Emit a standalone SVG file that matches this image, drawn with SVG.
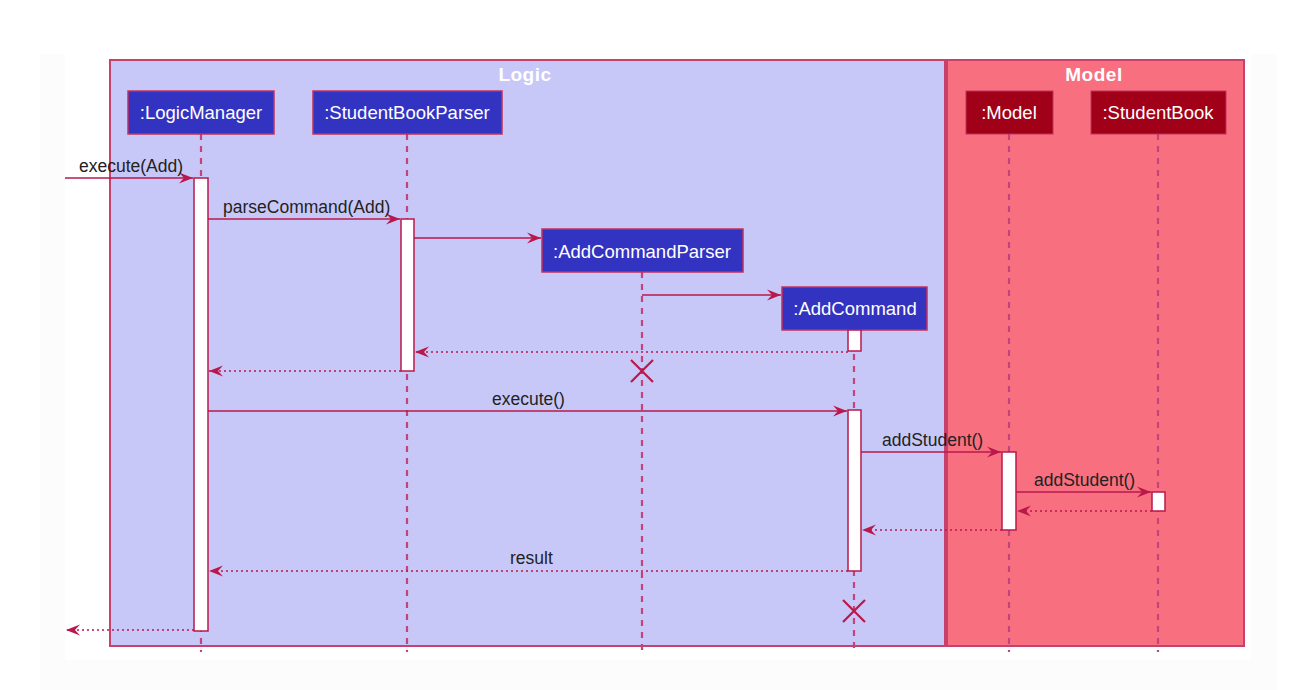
<svg xmlns="http://www.w3.org/2000/svg" width="1306" height="690" viewBox="0 0 1306 690">
<style>
.txt{font-family:"Liberation Sans",Arial,sans-serif;font-size:17.5px;fill:#222;}
.ptxt{font-family:"Liberation Sans",Arial,sans-serif;font-size:18.5px;fill:#ffffff;text-anchor:middle;}
.title{font-family:"Liberation Sans",Arial,sans-serif;font-size:19px;font-weight:bold;fill:#ffffff;text-anchor:middle;letter-spacing:0.5px;}
.lpart{fill:#3333c2;stroke:#c0305e;stroke-width:1.5;}
.mpart{fill:#a00018;stroke:#c0305e;stroke-width:1;}
.life{stroke:#c2447a;stroke-width:2.2;stroke-dasharray:6,6;fill:none;}
.act{fill:#ffffff;stroke:#b8184c;stroke-width:1.5;}
.msg{stroke:#b8184c;stroke-width:1.6;fill:none;marker-end:url(#ah);}
.ret{stroke:#b8184c;stroke-width:1.6;stroke-dasharray:2,3;fill:none;marker-end:url(#ah);}
.x{stroke:#b8184c;stroke-width:2.2;fill:none;}
</style>
<defs>
<marker id="ah" markerWidth="16" markerHeight="12" refX="14" refY="6" orient="auto" markerUnits="userSpaceOnUse">
<polygon points="0,0.5 14,6 0,11.5 5,6" fill="#b8184c"/>
</marker>
</defs>
<rect x="0" y="0" width="1306" height="690" fill="#ffffff"/>
<rect x="40" y="54" width="1237" height="636" fill="#fcfcfc"/>
<rect x="65" y="0" width="1186" height="660" fill="#ffffff"/>
<g id="frame-logic">
<rect x="110" y="60" width="835" height="586" fill="#c8c8f8" stroke="#c8406c" stroke-width="2"/>
<text class="title" x="525" y="81">Logic</text>
</g>
<g id="frame-model">
<rect x="947" y="60" width="297" height="586" fill="#f87080" stroke="#c8406c" stroke-width="2"/>
<text class="title" x="1094" y="81">Model</text>
</g>
<g id="lifelines">
<line class="life" x1="201" y1="134" x2="201" y2="652"/>
<line class="life" x1="407" y1="134" x2="407" y2="652"/>
<line class="life" x1="642" y1="272" x2="642" y2="652"/>
<line class="life" x1="854" y1="330" x2="854" y2="654"/>
<line class="life" x1="1009" y1="134" x2="1009" y2="652"/>
<line class="life" x1="1158" y1="134" x2="1158" y2="652"/>
</g>
<g id="LogicManager">
<rect class="lpart" x="128" y="91" width="146" height="43"/>
<text class="ptxt" x="201" y="119">:LogicManager</text>
</g>
<g id="StudentBookParser">
<rect class="lpart" x="313" y="91" width="189" height="43"/>
<text class="ptxt" x="407" y="119">:StudentBookParser</text>
</g>
<g id="AddCommandParser">
<rect class="lpart" x="542" y="229" width="201" height="43"/>
<text class="ptxt" x="642" y="258">:AddCommandParser</text>
</g>
<g id="AddCommand">
<rect class="lpart" x="782" y="287" width="145" height="43"/>
<text class="ptxt" x="855" y="315">:AddCommand</text>
</g>
<g id="Model">
<rect class="mpart" x="966" y="91" width="87" height="43"/>
<text class="ptxt" x="1009" y="119">:Model</text>
</g>
<g id="StudentBook">
<rect class="mpart" x="1091" y="91" width="135" height="43"/>
<text class="ptxt" x="1158" y="119">:StudentBook</text>
</g>
<g id="activations">
<rect class="act" x="194" y="178" width="14" height="453"/>
<rect class="act" x="401" y="219" width="13" height="152"/>
<rect class="act" x="848" y="330" width="13" height="21"/>
<rect class="act" x="848" y="410" width="13" height="161"/>
<rect class="act" x="1002" y="452" width="14" height="78"/>
<rect class="act" x="1152" y="492" width="13" height="19"/>
</g>
<g id="connectors">
<line class="msg" x1="65" y1="178" x2="193" y2="178"/>
<line class="msg" x1="208" y1="219" x2="400" y2="219"/>
<line class="msg" x1="414" y1="238" x2="541" y2="238"/>
<line class="msg" x1="642" y1="295" x2="781" y2="295"/>
<line class="ret" x1="848" y1="352" x2="415" y2="352"/>
<line class="ret" x1="401" y1="371" x2="209" y2="371"/>
<line class="msg" x1="208" y1="411" x2="847" y2="411"/>
<line class="msg" x1="861" y1="452" x2="1001" y2="452"/>
<line class="msg" x1="1016" y1="492" x2="1151" y2="492"/>
<line class="ret" x1="1152" y1="511" x2="1017" y2="511"/>
<line class="ret" x1="1002" y1="530" x2="862" y2="530"/>
<line class="ret" x1="848" y1="571" x2="209" y2="571"/>
<line class="ret" x1="194" y1="630" x2="66" y2="630"/>
<path class="x" d="M631,360 L653,382 M653,360 L631,382"/>
<path class="x" d="M843,600 L865,622 M865,600 L843,622"/>
</g>
<g id="labels">
<text class="txt" x="79" y="172">execute(Add)</text>
<text class="txt" x="223" y="213">parseCommand(Add)</text>
<text class="txt" x="492" y="405">execute()</text>
<text class="txt" x="882" y="446">addStudent()</text>
<text class="txt" x="1034" y="486">addStudent()</text>
<text class="txt" x="510" y="564">result</text>
</g>
</svg>
